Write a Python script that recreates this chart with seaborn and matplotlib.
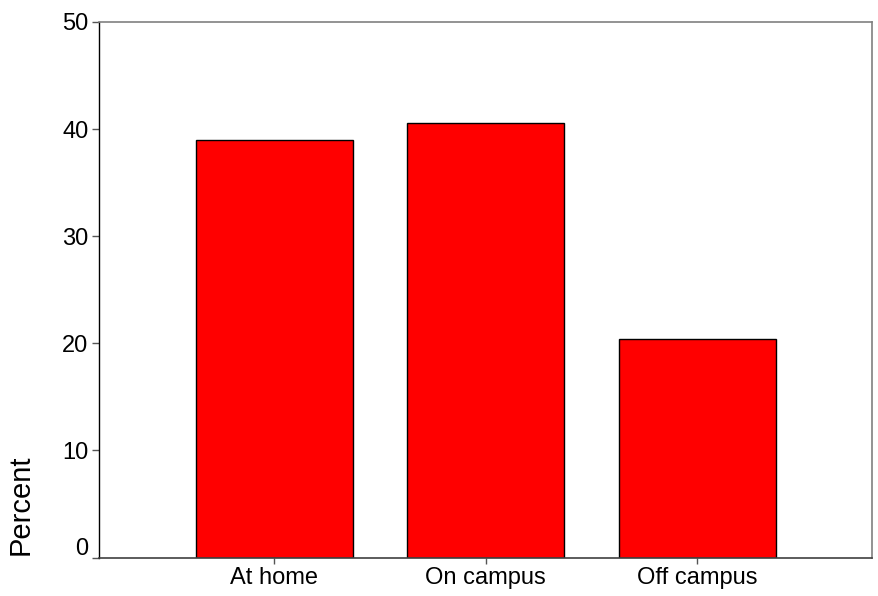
import matplotlib
matplotlib.use("Agg")
import matplotlib.pyplot as plt
import matplotlib.transforms as mtransforms
import seaborn as sns
import pandas as pd

categories = ["At home", "On campus", "Off campus"]
percent = [39.0, 40.6, 20.4]
yticks = [0, 10, 20, 30, 40, 50]

sns.set_style("white")
plt.rcParams["font.family"] = ["Liberation Sans", "DejaVu Sans"]

df = pd.DataFrame({"cat": categories, "pct": percent})

fig = plt.figure(figsize=(8.79, 5.96), dpi=100)
ax = fig.add_axes([99.5 / 879, 1 - 557.5 / 596, (872 - 99.5) / 879, (557.5 - 22) / 596])

sns.barplot(data=df, x="cat", y="pct", order=categories, color="#ff0000",
            saturation=1, width=0.742, edgecolor="black", linewidth=1, ax=ax)

ax.set_xlim(-0.825, 2.825)
ax.set_ylim(0, 50)
ax.set_yticks(yticks)
ax.set_yticklabels([str(t) for t in yticks])
ax.set_xlabel("")
ax.set_ylabel("Percent", fontsize=21, color="black", loc="bottom", labelpad=20)
ax.yaxis.label.set_y(0.005)
ax.tick_params(axis="y", direction="out", length=5, width=1, color="#555555",
               labelsize=17, labelcolor="black", pad=3, left=True)
ax.tick_params(axis="x", direction="out", length=4, width=1, color="#555555",
               labelsize=17, labelcolor="black", pad=3, bottom=True)

# the "0" label sits slightly above its tick in the reference
lbl0 = ax.get_yticklabels()[0]
lbl0.set_transform(lbl0.get_transform() +
                   mtransforms.ScaledTranslation(0, 11 / 100, fig.dpi_scale_trans))

for side in ["top", "right"]:
    ax.spines[side].set_color("#808080")
    ax.spines[side].set_linewidth(1.2)
ax.spines["left"].set_color("black")
ax.spines["left"].set_linewidth(1.0)
ax.spines["bottom"].set_color("#404040")
ax.spines["bottom"].set_linewidth(1.2)

fig.savefig("out.png", dpi=100)
